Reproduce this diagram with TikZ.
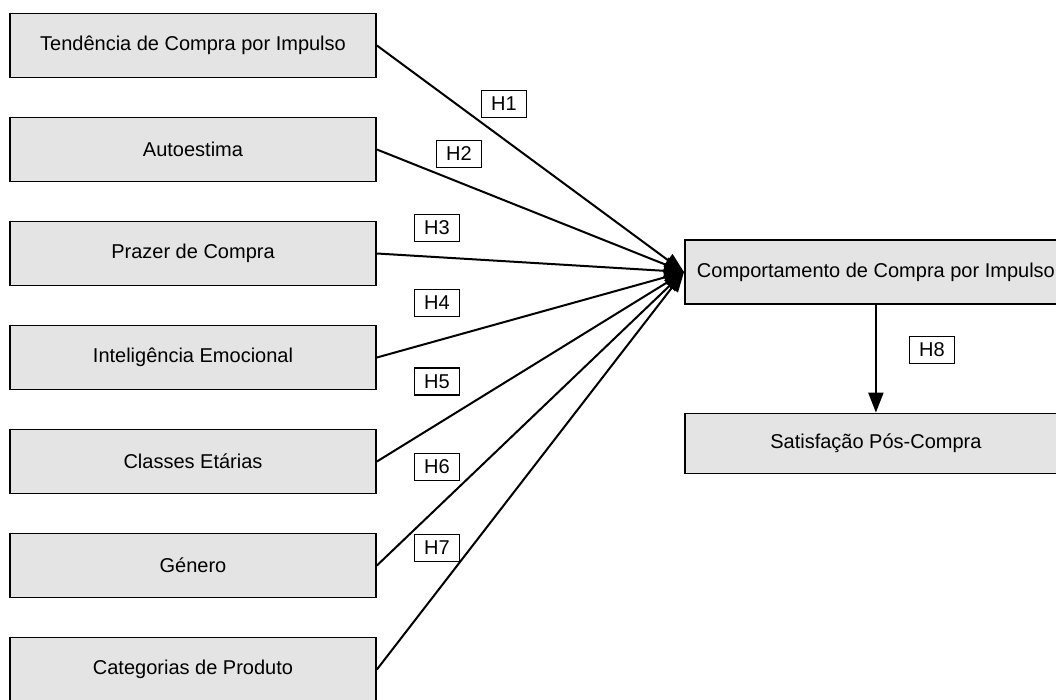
\documentclass[tikz,border=0pt]{standalone}
\usepackage{fontspec}
\setmainfont{Liberation Sans}
\usetikzlibrary{arrows.meta}
\definecolor{boxgray}{RGB}{228,228,228}

\begin{document}
\begin{tikzpicture}[x=1pt,y=-1pt,->,>={Triangle[length=20pt,width=15pt]},line width=2pt,
  var node/.style={rectangle,fill=boxgray,draw,line width=1.8pt,minimum width=366pt,minimum height=64pt,font=\fontsize{20}{24}\selectfont},
  out node/.style={var node,minimum width=382pt,anchor=west},
  hyp node/.style={rectangle,draw,line width=1.4pt,minimum width=45pt,minimum height=27pt,inner sep=0pt,font=\fontsize{20}{24}\selectfont}]

  \useasboundingbox (0,0) rectangle (1056,700);

  \node[var node] (t1) at (193,45.5) {Tendência de Compra por Impulso};
  \node[var node] (t2) at (193,149.5) {Autoestima};
  \node[var node] (t3) at (193,253.5) {Prazer de Compra};
  \node[var node] (t4) at (193,357.5) {Inteligência Emocional};
  \node[var node] (t5) at (193,461.5) {Classes Etárias};
  \node[var node] (t6) at (193,565.5) {Género};
  \node[var node] (t7) at (193,669.5) {Categorias de Produto};

  \node[out node] (cc) at (684,272) {Comportamento de Compra por Impulso};
  \node[out node,minimum height=60pt] (sp) at (684,443.5) {Satisfação Pós-Compra};

  \path
    (t1.east) edge (cc.west)
    (t2.east) edge (cc.west)
    (t3.east) edge (cc.west)
    (t4.east) edge (cc.west)
    (t5.east) edge (cc.west)
    (t6.east) edge (cc.west)
    (t7.east) edge (cc.west)
    (cc) edge (sp)
    ;

  \node[hyp node] (h1) at (504,104) {H1};
  \node[hyp node] (h2) at (459,154) {H2};
  \node[hyp node] (h3) at (437,228) {H3};
  \node[hyp node] (h4) at (437,303) {H4};
  \node[hyp node] (h5) at (437,381.5) {H5};
  \node[hyp node] (h6) at (437,467) {H6};
  \node[hyp node] (h7) at (437,548) {H7};
  \node[hyp node] (h8) at (932,350) {H8};

\end{tikzpicture}
\end{document}
